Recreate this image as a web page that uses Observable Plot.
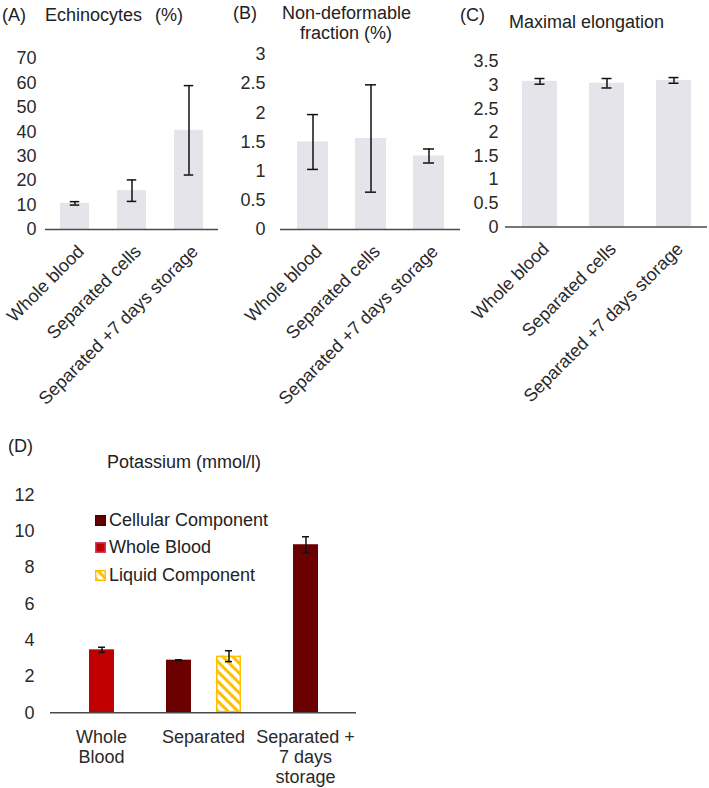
<!DOCTYPE html>
<html><head><meta charset="utf-8">
<script src="https://cdn.jsdelivr.net/npm/d3@7"></script>
<script src="https://cdn.jsdelivr.net/npm/@observablehq/plot@0.6"></script>
<style>
body{margin:0;background:#fff;}
#wrap{position:relative;width:709px;height:788px;overflow:hidden;font-family:"Liberation Sans",Arial,sans-serif;color:#222;background:#fff;}
.t{position:absolute;font-size:18px;line-height:20px;white-space:nowrap;}
.p{position:absolute;}
.lg{position:absolute;font-size:18px;line-height:20px;white-space:nowrap;display:flex;align-items:center;}
</style></head><body><div id="wrap"></div>
<script>
// ---- data ----
const catsTop = ["Whole blood", "Separated cells", "Separated +7 days storage"];
const echinoMean = [10.7, 15.9, 40.6];
const echinoErr = [0.7, 4.4, 18.3];
const echinoTicks = [0, 10, 20, 30, 40, 50, 60, 70];
const nondefMean = [1.50, 1.56, 1.26];
const nondefErr = [0.47, 0.92, 0.12];
const nondefTicks = [0, 0.5, 1, 1.5, 2, 2.5, 3];
const elongMean = [3.08, 3.04, 3.10];
const elongErr = [0.06, 0.10, 0.06];
const elongTicks = [0, 0.5, 1, 1.5, 2, 2.5, 3, 3.5];

const groupsD = ["Whole\nBlood", "Separated", "Separated +\n7 days\nstorage"];
const seriesD = ["Cellular Component", "Whole Blood", "Liquid Component"];
const colorsD = ["#6b0000", "#c00000", "url(#hatchD)"];
const dGroup = ["Whole\nBlood", "Separated", "Separated", "Separated +\n7 days\nstorage"];
const dSeries = ["Whole Blood", "Cellular Component", "Liquid Component", "Cellular Component"];
const dValue = [3.47, 2.90, 3.12, 9.26];
const dErr = [0.14, 0.02, 0.30, 0.44];
const potassiumTicks = [0, 2, 4, 6, 8, 10, 12];

const FONT = '"Liberation Sans", Arial, sans-serif';
const wrap = document.getElementById("wrap");

function addText(txt, left, top, extra = {}) {
  const d = document.createElement("div");
  d.className = "t";
  d.style.left = left + "px"; d.style.top = top + "px";
  Object.assign(d.style, extra);
  d.textContent = txt;
  wrap.appendChild(d);
  return d;
}
function place(svg, left, top) {
  svg.classList.add("p");
  svg.style.left = left + "px"; svg.style.top = top + "px";
  wrap.appendChild(svg);
}

function topPanel(o) {
  const rows = catsTop.map((c, i) => ({cat: c, v: o.values[i], e: o.errors[i]}));
  return Plot.plot({
    width: o.width, height: 410,
    marginLeft: o.mL, marginRight: o.mR, marginTop: o.mT, marginBottom: 410 - o.base,
    style: {fontFamily: FONT, fontSize: "18px", color: "#2a2a2a", background: "transparent", overflow: "visible"},
    x: {domain: catsTop, paddingInner: o.pi, paddingOuter: o.po, axis: null},
    y: {domain: [0, o.yMax], axis: null},
    marks: [
      Plot.barY(rows, {x: "cat", y: "v", fill: "#e4e4ea"}),
      Plot.ruleY([0], {stroke: "#4a4a4a", strokeWidth: 1.6}),
      Plot.ruleX(rows, {x: "cat", y1: d => d.v - d.e, y2: d => d.v + d.e, stroke: "#111", strokeWidth: 1.5}),
      Plot.tickY(rows, {x: "cat", y: d => d.v - d.e, inset: o.cap, stroke: "#111", strokeWidth: 1.5}),
      Plot.tickY(rows, {x: "cat", y: d => d.v + d.e, inset: o.cap, stroke: "#111", strokeWidth: 1.5}),
      Plot.axisY({ticks: o.ticks, tickSize: 0, tickPadding: o.tp, tickFormat: d => String(d), label: null, fontSize: 18}),
      Plot.axisX({tickRotate: -45, tickSize: 0, tickPadding: 14, dx: 6, dy: 5, label: null, fontSize: 18})
    ]
  });
}

place(topPanel({width: 230, mL: 45, mR: 12, mT: 58, base: 229, pi: 0.49, po: 0.245, values: echinoMean, errors: echinoErr, ticks: echinoTicks, yMax: 70, tp: 9, cap: 9.75}), 0, 0);
place(topPanel({width: 236, mL: 50, mR: 6, mT: 54, base: 229, pi: 0.47, po: 0.275, values: nondefMean, errors: nondefErr, ticks: nondefTicks, yMax: 3, tp: 15, cap: 10}), 230, 0);
place(topPanel({width: 243, mL: 39, mR: 2, mT: 61, base: 226.5, pi: 0.483, po: 0.23, values: elongMean, errors: elongErr, ticks: elongTicks, yMax: 3.5, tp: 7, cap: 12.5}), 466, 0);

addText("(A)", 2, 5);
addText("Echinocytes (%)", 45, 5, {wordSpacing: "8px"});
addText("(B)", 233, 3);
addText("Non-deformable\nfraction (%)", 282, 3, {whiteSpace: "pre", textAlign: "center", width: "128px"});
addText("(C)", 460, 5);
addText("Maximal elongation", 509, 12);
addText("(D)", 8, 436);
addText("Potassium (mmol/l)", 107, 452);

// ---- panel D ----
const rowsD = dGroup.map((g, i) => ({group: g, series: dSeries[i], v: dValue[i], e: dErr[i]}));
const counts = d3.rollup(rowsD, v => v.length, d => d.group);
const seen = new Map();
rowsD.forEach(d => {
  const n = counts.get(d.group), k = seen.get(d.group) || 0;
  seen.set(d.group, k + 1);
  d.slot = n === 1 ? "C" : (k === 0 ? "L" : "R");
});

const svgD = Plot.plot({
  width: 400, height: 348, marginLeft: 49, marginRight: 43, marginTop: 54.5, marginBottom: 75.7,
  style: {fontFamily: FONT, fontSize: "18px", color: "#2a2a2a", background: "transparent", overflow: "visible"},
  fx: {domain: groupsD, paddingInner: 0, paddingOuter: 0, axis: null, label: null},
  x: {domain: ["L", "C", "R"], paddingInner: 0, paddingOuter: 0.474, axis: null},
  y: {domain: [0, 12], axis: null},
  color: {domain: seriesD, range: colorsD},
  marks: [
    Plot.barY(rowsD, {fx: "group", x: "slot", y: "v", fill: "series"}),
    Plot.barY(rowsD.filter(d => d.series === "Liquid Component"), {fx: "group", x: "slot", y: "v", fill: "none", stroke: "#ffc000", strokeWidth: 1.5, inset: 0.75}),
    Plot.ruleY([0], {stroke: "#4a4a4a", strokeWidth: 1.6}),
    Plot.ruleX(rowsD, {fx: "group", x: "slot", y1: d => d.v - d.e, y2: d => d.v + d.e, stroke: "#111", strokeWidth: 1.5}),
    Plot.tickY(rowsD, {fx: "group", x: "slot", y: d => d.v - d.e, inset: 9, stroke: "#111", strokeWidth: 1.5}),
    Plot.tickY(rowsD, {fx: "group", x: "slot", y: d => d.v + d.e, inset: 9, stroke: "#111", strokeWidth: 1.5}),
    Plot.axisY({ticks: potassiumTicks, tickSize: 0, tickPadding: 16, label: null, fontSize: 18}),
    Plot.axisFx({anchor: "bottom", tickSize: 0, tickPadding: 16, lineHeight: 1.11, label: null, fontSize: 18})
  ]
});
const defs = d3.select(svgD).insert("defs", ":first-child");
const pat = defs.append("pattern").attr("id", "hatchD").attr("patternUnits", "userSpaceOnUse")
  .attr("width", 7).attr("height", 7).attr("patternTransform", "rotate(-45)");
pat.append("rect").attr("width", 7).attr("height", 7).attr("fill", "#fff");
pat.append("rect").attr("x", 0).attr("y", 0).attr("width", 3).attr("height", 7).attr("fill", "#ffc000");
place(svgD, 0, 440);

// legend D
const legendCenters = [520, 547, 575];
seriesD.forEach((s, i) => {
  const row = document.createElement("div");
  row.className = "lg";
  row.style.left = "95px"; row.style.top = (legendCenters[i] - 10) + "px";
  const sw = document.createElementNS("http://www.w3.org/2000/svg", "svg");
  sw.setAttribute("width", 11); sw.setAttribute("height", 11);
  sw.style.marginRight = "3px";
  const r = document.createElementNS("http://www.w3.org/2000/svg", "rect");
  r.setAttribute("x", 0.75); r.setAttribute("y", 0.75); r.setAttribute("width", 9.5); r.setAttribute("height", 9.5);
  r.setAttribute("fill", colorsD[i]);
  r.setAttribute("stroke", i === 2 ? "#ffc000" : (i === 1 ? "#d04060" : "#4a0000"));
  r.setAttribute("stroke-width", 1.5);
  sw.appendChild(r);
  row.appendChild(sw);
  const sp = document.createElement("span");
  sp.textContent = s;
  row.appendChild(sp);
  wrap.appendChild(row);
});
</script></body></html>
